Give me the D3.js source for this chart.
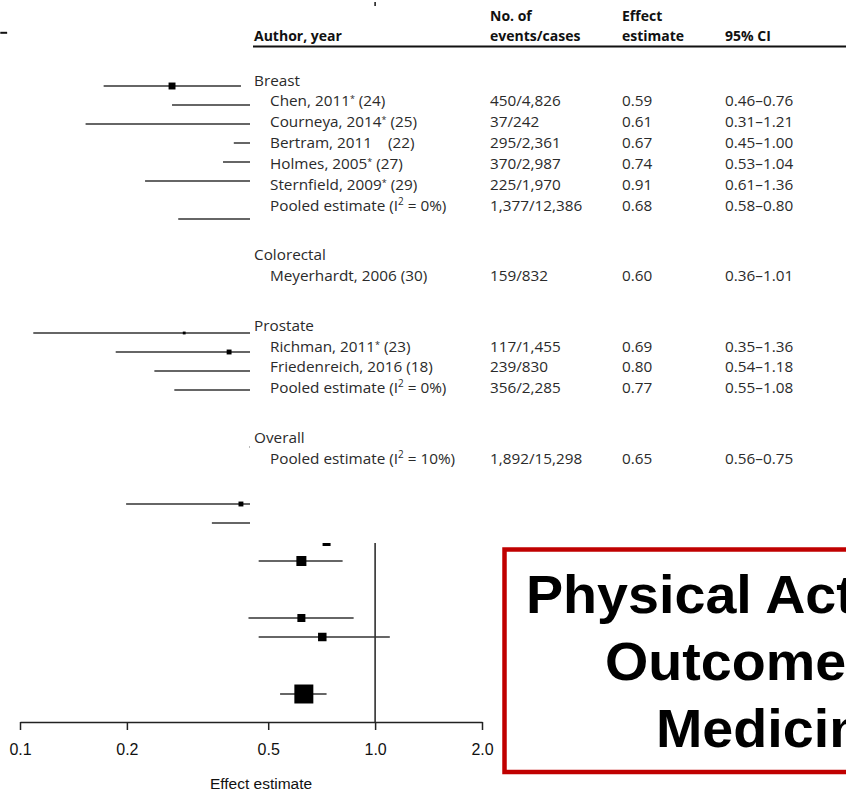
<!DOCTYPE html>
<html>
<head>
<meta charset="utf-8">
<script src="https://cdn.jsdelivr.net/npm/d3@7"></script>
<style>
  html, body { margin: 0; padding: 0; background: #fff; }
  svg { display: block; }
</style>
</head>
<body>
<svg id="chart" width="846" height="792"></svg>
<script>
// ---- Meta-analysis table ----
const groupNames = ["Breast", "Colorectal", "Prostate", "Overall"];
const studyAuthors = ["Chen, 2011", "Courneya, 2014", "Bertram, 2011", "Holmes, 2005", "Sternfield, 2009",
  "Pooled estimate", "Meyerhardt, 2006", "Richman, 2011", "Friedenreich, 2016", "Pooled estimate", "Pooled estimate"];
const studyRefs = ["(24)", "(25)", "   (22)", "(27)", "(29)", "", "(30)", "(23)", "(18)", "", ""];
const studyStarred = [true, true, false, true, true, false, false, true, false, false, false];
const studyI2 = [null, null, null, null, null, "0%", null, null, null, "0%", "10%"];
const studyGroup = [0, 0, 0, 0, 0, 0, 1, 2, 2, 2, 3];
const studyEvents = ["450/4,826", "37/242", "295/2,361", "370/2,987", "225/1,970", "1,377/12,386",
  "159/832", "117/1,455", "239/830", "356/2,285", "1,892/15,298"];
const studyEffect = [0.59, 0.61, 0.67, 0.74, 0.91, 0.68, 0.60, 0.69, 0.80, 0.77, 0.65];
const studyLow    = [0.46, 0.31, 0.45, 0.53, 0.61, 0.58, 0.36, 0.35, 0.54, 0.55, 0.56];
const studyHigh   = [0.76, 1.21, 1.00, 1.04, 1.36, 0.80, 1.01, 1.36, 1.18, 1.08, 0.75];
const headerCols = [["Author, year"], ["No. of", "events/cases"], ["Effect", "estimate"], ["95% CI"]];

// ---- Left forest-plot strip (partly hidden behind the table) ----
const fragSlot   = [-2.8, 0, 1, 2, 3, 4, 5, 7, 13, 14, 15, 16, 19, 22, 23];
const fragLow    = [0.088, 0.172, 0.268, 0.153, 0.40, 0.373, 0.225, 0.279, 0.109, 0.186, 0.239, 0.272, 0.444, 0.199, 0.347];
const fragHigh   = [0.092, 0.419, 0.98, 1.22, 0.90, 1.04, 1.38, 0.82, 1.36, 1.18, 1.02, 1.08, 0.444, 0.60, 0.75];
const fragPoint  = [null, 0.268, null, null, null, null, null, null, 0.29, 0.388, null, null, 0.444, 0.419, null];
const fragWeight = [0, 12, 0, 0, 0, 0, 0, 0, 2, 6, 0, 0, 0.5, 6, 0];

// ---- Lower forest plot ----
const plotSlot   = [0, 1, 4, 5, 8];
const plotEst    = [0.73, 0.62, 0.62, 0.71, 0.63];
const plotLow    = [null, 0.47, 0.44, 0.47, 0.54];
const plotHigh   = [null, 0.81, 0.87, 1.10, 0.73];
const plotWeight = [16, 25, 16, 18, 90];
const axisTicks  = [0.1, 0.2, 0.5, 1.0, 2.0];
const axisTitle  = "Effect estimate";

// ---- Title card ----
const titleLines = ["Physical Activity and Cancer", "Outcomes: A Precision", "Medicine Approach"];

const svg = d3.select("#chart");
svg.append("rect").attr("width", 846).attr("height", 792).attr("fill", "#fff");

const x = d3.scaleLog().domain([0.1, 2]).range([20, 482]);
const sq = d3.scaleSqrt().domain([0, 100]).range([0, 20]);

const defs = svg.append("defs");
defs.append("clipPath").attr("id", "fragClip")
  .append("rect").attr("x", 0).attr("y", 0).attr("width", 250).attr("height", 530);
defs.append("clipPath").attr("id", "plotClip")
  .append("rect").attr("x", 0).attr("y", 543).attr("width", 500).attr("height", 249);

// Left strip of confidence intervals
const yFrag = d3.scaleLinear().domain([0, 1]).range([86, 105]);
const frag = svg.append("g").attr("clip-path", "url(#fragClip)");
const fragRows = fragSlot.map((s, i) => ({ s, lo: fragLow[i], hi: fragHigh[i], pt: fragPoint[i], w: fragWeight[i], i }));
frag.selectAll("line.ci").data(fragRows).join("line")
  .attr("class", "ci")
  .attr("x1", d => x(d.lo)).attr("x2", d => x(d.hi))
  .attr("y1", d => yFrag(d.s)).attr("y2", d => yFrag(d.s))
  .attr("stroke", d => d.i === 0 ? "#111" : "#666")
  .attr("stroke-width", d => d.i === 0 ? 2 : 1.8);
frag.selectAll("rect.pt").data(fragRows.filter(d => d.pt !== null)).join("rect")
  .attr("class", "pt")
  .attr("x", d => x(d.pt) - sq(d.w) / 2).attr("y", d => yFrag(d.s) - sq(d.w) / 2)
  .attr("width", d => sq(d.w)).attr("height", d => sq(d.w))
  .attr("fill", d => d.w < 1 ? "#888" : "#000");
svg.append("line")
  .attr("x1", x(1)).attr("x2", x(1)).attr("y1", 2).attr("y2", 6)
  .attr("stroke", "#111").attr("stroke-width", 1.5);

// Table
const colX = [254, 490, 622, 725];
const indent = 16;
const fs = 15.3;
const tbl = svg.append("g")
  .attr("font-family", "'Open Sans', 'DejaVu Sans', sans-serif")
  .attr("fill", "#2a2a2a");

headerCols.forEach((lines, c) => {
  lines.forEach((t, k) => {
    tbl.append("text")
      .attr("x", colX[c])
      .attr("y", 41 - (lines.length - 1 - k) * 20)
      .attr("font-size", 14).attr("font-weight", 700).attr("fill", "#111")
      .text(t);
  });
});
tbl.append("line").attr("x1", 253).attr("x2", 846).attr("y1", 46.5).attr("y2", 46.5)
  .attr("stroke", "#111").attr("stroke-width", 2);

// Build row list: group header followed by its studies
const rows = [];
groupNames.forEach((g, gi) => {
  rows.push({ type: "group", label: g, g: gi });
  studyAuthors.forEach((a, si) => {
    if (studyGroup[si] === gi) rows.push({ type: "study", si, g: gi });
  });
});
const yRow = d3.scaleLinear().domain([0, 1]).range([80, 100.9]);
const groupGap = 28.5;
const fmt = d3.format(".2f");

rows.forEach((r, i) => {
  const yc = yRow(i) + r.g * groupGap;
  const base = yc + 5.5;
  if (r.type === "group") {
    tbl.append("text").attr("x", colX[0]).attr("y", base).attr("font-size", fs).text(r.label);
    return;
  }
  const si = r.si;
  const t = tbl.append("text").attr("x", colX[0] + indent).attr("y", base)
    .attr("font-size", fs).style("white-space", "pre");
  if (studyI2[si] !== null) {
    t.append("tspan").text(studyAuthors[si] + " (I");
    t.append("tspan").attr("dy", -6).attr("font-size", 10).text("2");
    t.append("tspan").attr("dy", 6).text(" = " + studyI2[si] + ")");
  } else {
    t.append("tspan").text(studyAuthors[si]);
    if (studyStarred[si]) {
      t.append("tspan").attr("dy", -4).attr("font-size", 9).text("*");
      t.append("tspan").attr("dy", 4).text(" " + studyRefs[si]);
    } else {
      t.append("tspan").text(" " + studyRefs[si]);
    }
  }
  tbl.append("text").attr("x", colX[1]).attr("y", base).attr("font-size", fs).text(studyEvents[si]);
  tbl.append("text").attr("x", colX[2]).attr("y", base).attr("font-size", fs).text(fmt(studyEffect[si]));
  tbl.append("text").attr("x", colX[3]).attr("y", base).attr("font-size", fs)
    .text(fmt(studyLow[si]) + "\u2013" + fmt(studyHigh[si]));
});

// Lower forest plot
const yPlot = d3.scaleLinear().domain([0, 1]).range([542, 561]);
const plot = svg.append("g").attr("clip-path", "url(#plotClip)");
const plotRows = plotSlot.map((s, i) => ({ s, est: plotEst[i], lo: plotLow[i], hi: plotHigh[i], w: plotWeight[i] }));
plot.append("line")
  .attr("x1", x(1)).attr("x2", x(1)).attr("y1", 530).attr("y2", 722)
  .attr("stroke", "#222").attr("stroke-width", 1.5);
plot.selectAll("line.ci").data(plotRows.filter(d => d.lo !== null)).join("line")
  .attr("class", "ci")
  .attr("x1", d => x(d.lo)).attr("x2", d => x(d.hi))
  .attr("y1", d => yPlot(d.s)).attr("y2", d => yPlot(d.s))
  .attr("stroke", "#333").attr("stroke-width", 1.4);
plot.selectAll("rect.est").data(plotRows).join("rect")
  .attr("class", "est")
  .attr("x", d => x(d.est) - sq(d.w) / 2).attr("y", d => yPlot(d.s) - sq(d.w) / 2)
  .attr("width", d => sq(d.w)).attr("height", d => sq(d.w))
  .attr("fill", "#000");

const axis = svg.append("g").attr("transform", "translate(0,722)")
  .call(d3.axisBottom(x).tickValues(axisTicks).tickFormat(d3.format(".1f")).tickSize(8).tickSizeOuter(0));
axis.select(".domain").attr("stroke", "#222").attr("stroke-width", 1.5);
axis.selectAll(".tick line").attr("stroke", "#222").attr("stroke-width", 1.5);
axis.selectAll(".tick text")
  .attr("y", 22).attr("fill", "#111")
  .attr("font-family", "'Liberation Sans', Arial, sans-serif").attr("font-size", 16);
svg.append("text").attr("x", 261).attr("y", 789).attr("text-anchor", "middle")
  .attr("font-family", "'Liberation Sans', Arial, sans-serif").attr("font-size", 15.5).attr("fill", "#111")
  .text(axisTitle);

// Title card with red frame
svg.append("rect").attr("x", 504.5).attr("y", 549.5).attr("width", 420).attr("height", 222.5)
  .attr("fill", "#fff").attr("stroke", "#c00000").attr("stroke-width", 4.5);
const titleX = [526, 605, 656];
svg.append("g").selectAll("text").data(titleLines).join("text")
  .attr("transform", (d, i) => `translate(${titleX[i]},${613 + i * 67}) scale(1.05,1)`)
  .attr("font-family", "'Liberation Sans', Arial, sans-serif")
  .attr("font-weight", 700).attr("font-size", 53).attr("fill", "#000")
  .text(d => d);
</script>
</body>
</html>
